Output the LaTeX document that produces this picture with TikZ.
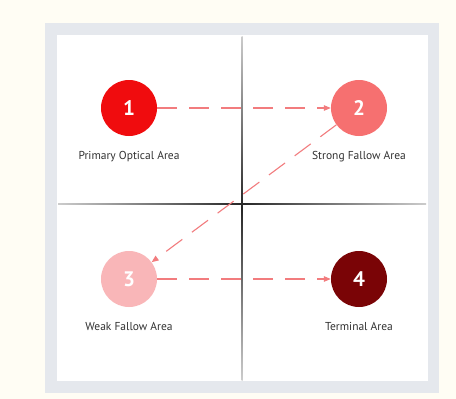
\documentclass[tikz,border=0pt]{standalone}
\usepackage{fontspec}
\setmainfont{PT Sans}
\usetikzlibrary{arrows.meta,positioning}
\definecolor{pagecream}{RGB}{255,253,244}
\definecolor{framegray}{RGB}{229,232,237}
\definecolor{areaone}{RGB}{240,12,14}
\definecolor{areatwo}{RGB}{246,112,112}
\definecolor{areathree}{RGB}{249,182,184}
\definecolor{areafour}{RGB}{122,4,6}
\definecolor{flowpink}{RGB}{242,124,126}
\definecolor{labelgray}{RGB}{50,50,50}

\begin{document}
\begin{tikzpicture}[x=1pt, y=-1pt,
    area/.style={circle, minimum size=56pt, inner sep=0pt, text=white, font=\fontsize{21}{21}\selectfont\bfseries},
    arealabel/.style={font=\fontsize{11.5}{13}\selectfont, text=labelgray, below=12pt of #1},
    flow/.style={-{Triangle[length=7pt,width=5.5pt]}, flowpink, line width=1.1pt, dash pattern=on 20pt off 12pt}]
        % page, frame and white panel
        \fill[pagecream] (0,0) rectangle (456,399);
        \useasboundingbox (0,0) rectangle (456,399);
        \fill[framegray] (45,23) rectangle (439,393);
        \fill[white] (57,35) rectangle (428,381);
        % the two axes, fading out at both ends
        \shade[left color=black!20, right color=black!20, middle color=black!85] (58,203.6) rectangle (426,204.6);
        \shade[top color=black!20, bottom color=black!20, middle color=black!85] (241.5,36) rectangle (242.5,380);
        % the four areas
        \node[area, fill=areaone] (primary) at (129,108) {1};
        \node[area, fill=areatwo] (strong) at (359,108) {2};
        \node[area, fill=areathree] (weak) at (129,279) {3};
        \node[area, fill=areafour] (terminal) at (359,279) {4};
        \node[arealabel=primary] (primarylbl) {Primary Optical Area};
        \node[arealabel=strong] (stronglbl) {Strong Fallow Area};
        \node[arealabel=weak] (weaklbl) {Weak Fallow Area};
        \node[arealabel=terminal] (terminallbl) {Terminal Area};
        % reading path
        \draw[flow] (primary) -- (strong);
        \draw[flow] (strong) -- (weak);
        \draw[flow] (weak) -- (terminal);
\end{tikzpicture}
\end{document}
